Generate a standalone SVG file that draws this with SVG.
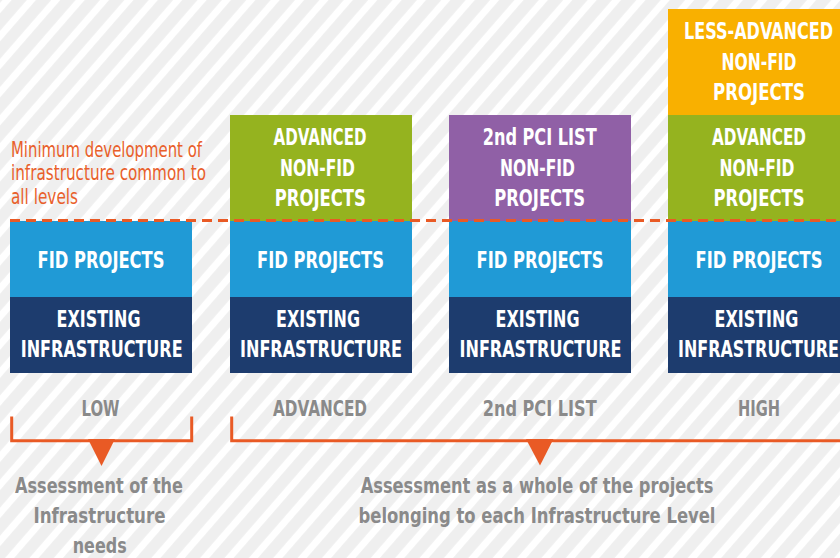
<svg xmlns="http://www.w3.org/2000/svg" width="840" height="558" viewBox="0 0 840 558">
<defs>
<pattern id="stripes" width="18.4" height="18.4" patternUnits="userSpaceOnUse" patternTransform="rotate(41)">
<rect width="18.4" height="18.4" fill="#efefef"/>
<rect x="1.8" width="7" height="18.4" fill="#ffffff"/>
</pattern>
<style>
.w{font-family:"DejaVu Sans Condensed","DejaVu Sans",sans-serif;font-weight:bold;font-size:23px;fill:#ffffff;text-anchor:middle}
.g{font-family:"DejaVu Sans Condensed","DejaVu Sans",sans-serif;font-weight:bold;font-size:22px;fill:#8a8a8a;text-anchor:middle}
.o{font-family:"DejaVu Sans Condensed","DejaVu Sans",sans-serif;font-size:20.5px;fill:#e95f2b}
.fid{fill:#209ad6}
.ex{fill:#1d3c6e}
.adv{fill:#95b31f}
.pci{fill:#9060a6}
.less{fill:#f9b000}
.br{fill:none;stroke:#e95a25;stroke-width:3}
.tri{fill:#e95a25}
</style>
</defs>
<rect width="840" height="558" fill="url(#stripes)"/>

<g id="note">
<text class="o" x="11" y="156.7" textLength="191" lengthAdjust="spacingAndGlyphs">Minimum development of</text>
<text class="o" x="11" y="180" textLength="195" lengthAdjust="spacingAndGlyphs">infrastructure common to</text>
<text class="o" x="11" y="204" textLength="67" lengthAdjust="spacingAndGlyphs">all levels</text>
</g>

<g id="col-low">
<rect class="fid" x="10" y="221" width="182" height="76"/>
<text class="w" x="101" y="268" textLength="127" lengthAdjust="spacingAndGlyphs">FID PROJECTS</text>
<rect class="ex" x="10" y="297" width="182" height="76"/>
<text class="w" x="98.5" y="327" textLength="84" lengthAdjust="spacingAndGlyphs">EXISTING</text>
<text class="w" x="101.7" y="357" textLength="162" lengthAdjust="spacingAndGlyphs">INFRASTRUCTURE</text>
<text class="g" x="100.5" y="416" textLength="38" lengthAdjust="spacingAndGlyphs">LOW</text>
</g>

<g id="col-advanced">
<rect class="adv" x="230" y="115" width="182" height="106"/>
<text class="w" x="320" y="145" textLength="93" lengthAdjust="spacingAndGlyphs">ADVANCED</text>
<text class="w" x="317.5" y="175.7" textLength="75" lengthAdjust="spacingAndGlyphs">NON-FID</text>
<text class="w" x="320.3" y="205.7" textLength="91" lengthAdjust="spacingAndGlyphs">PROJECTS</text>
<rect class="fid" x="230" y="221" width="182" height="76"/>
<text class="w" x="320.5" y="268" textLength="127" lengthAdjust="spacingAndGlyphs">FID PROJECTS</text>
<rect class="ex" x="230" y="297" width="182" height="76"/>
<text class="w" x="318" y="327" textLength="84" lengthAdjust="spacingAndGlyphs">EXISTING</text>
<text class="w" x="321" y="357" textLength="162" lengthAdjust="spacingAndGlyphs">INFRASTRUCTURE</text>
<text class="g" x="320" y="416" textLength="94" lengthAdjust="spacingAndGlyphs">ADVANCED</text>
</g>

<g id="col-pci">
<rect class="pci" x="449" y="115" width="182" height="106"/>
<text class="w" x="539.7" y="145" textLength="114" lengthAdjust="spacingAndGlyphs">2nd PCI LIST</text>
<text class="w" x="537.5" y="175.7" textLength="75" lengthAdjust="spacingAndGlyphs">NON-FID</text>
<text class="w" x="539.7" y="205.7" textLength="91" lengthAdjust="spacingAndGlyphs">PROJECTS</text>
<rect class="fid" x="449" y="221" width="182" height="76"/>
<text class="w" x="540" y="268" textLength="127" lengthAdjust="spacingAndGlyphs">FID PROJECTS</text>
<rect class="ex" x="449" y="297" width="182" height="76"/>
<text class="w" x="537.5" y="327" textLength="84" lengthAdjust="spacingAndGlyphs">EXISTING</text>
<text class="w" x="540.5" y="357" textLength="162" lengthAdjust="spacingAndGlyphs">INFRASTRUCTURE</text>
<text class="g" x="539.7" y="416" textLength="114" lengthAdjust="spacingAndGlyphs">2nd PCI LIST</text>
</g>

<g id="col-high">
<rect class="less" x="668" y="9" width="172" height="106"/>
<rect class="adv" x="668" y="115" width="172" height="106"/>
<rect class="fid" x="668" y="221" width="172" height="76"/>
<rect class="ex" x="668" y="297" width="172" height="76"/>
<g transform="translate(759 0) scale(0.7 1)">
<text class="w" x="-0.7" y="39.5" textLength="212.9" lengthAdjust="spacingAndGlyphs">LESS-ADVANCED</text>
<text class="w" x="0" y="70.5" textLength="107.1" lengthAdjust="spacingAndGlyphs">NON-FID</text>
<text class="w" x="0" y="100.5" textLength="131.4" lengthAdjust="spacingAndGlyphs">PROJECTS</text>
<text class="w" x="0" y="145" textLength="134.3" lengthAdjust="spacingAndGlyphs">ADVANCED</text>
<text class="w" x="-2.9" y="175.7" textLength="107.1" lengthAdjust="spacingAndGlyphs">NON-FID</text>
<text class="w" x="0" y="205.7" textLength="130" lengthAdjust="spacingAndGlyphs">PROJECTS</text>
<text class="w" x="0" y="268" textLength="181.4" lengthAdjust="spacingAndGlyphs">FID PROJECTS</text>
<text class="w" x="-3.6" y="327" textLength="120" lengthAdjust="spacingAndGlyphs">EXISTING</text>
<text class="w" x="-0.7" y="357" textLength="230" lengthAdjust="spacingAndGlyphs">INFRASTRUCTURE</text>
</g>
<text class="g" x="759" y="416" textLength="42" lengthAdjust="spacingAndGlyphs">HIGH</text>
</g>

<g id="threshold">
<line x1="10" y1="220.5" x2="840" y2="220.5" stroke="#e95a25" stroke-width="3" stroke-dasharray="10 6"/>
</g>

<g id="connectors">
<path class="br" d="M11.7 416.5 V440.7 H191.7 V416.5"/>
<path class="tri" d="M88 439 L115 439 L101.5 466 Z"/>
<path class="br" d="M231.7 416.5 V440.7 H840"/>
<path class="tri" d="M526 439 L553.5 439 L540 465.5 Z"/>
</g>

<g id="assessment-low">
<text class="g" x="99" y="492.7" textLength="168" lengthAdjust="spacingAndGlyphs">Assessment of the</text>
<text class="g" x="99.5" y="522.7" textLength="132" lengthAdjust="spacingAndGlyphs">Infrastructure</text>
<text class="g" x="99.7" y="552.5" textLength="54" lengthAdjust="spacingAndGlyphs">needs</text>
</g>

<g id="assessment-levels">
<text class="g" x="537" y="492.7" textLength="352.7" lengthAdjust="spacingAndGlyphs">Assessment as a whole of the projects</text>
<text class="g" x="537" y="522.7" textLength="357" lengthAdjust="spacingAndGlyphs">belonging to each Infrastructure Level</text>
</g>
</svg>
